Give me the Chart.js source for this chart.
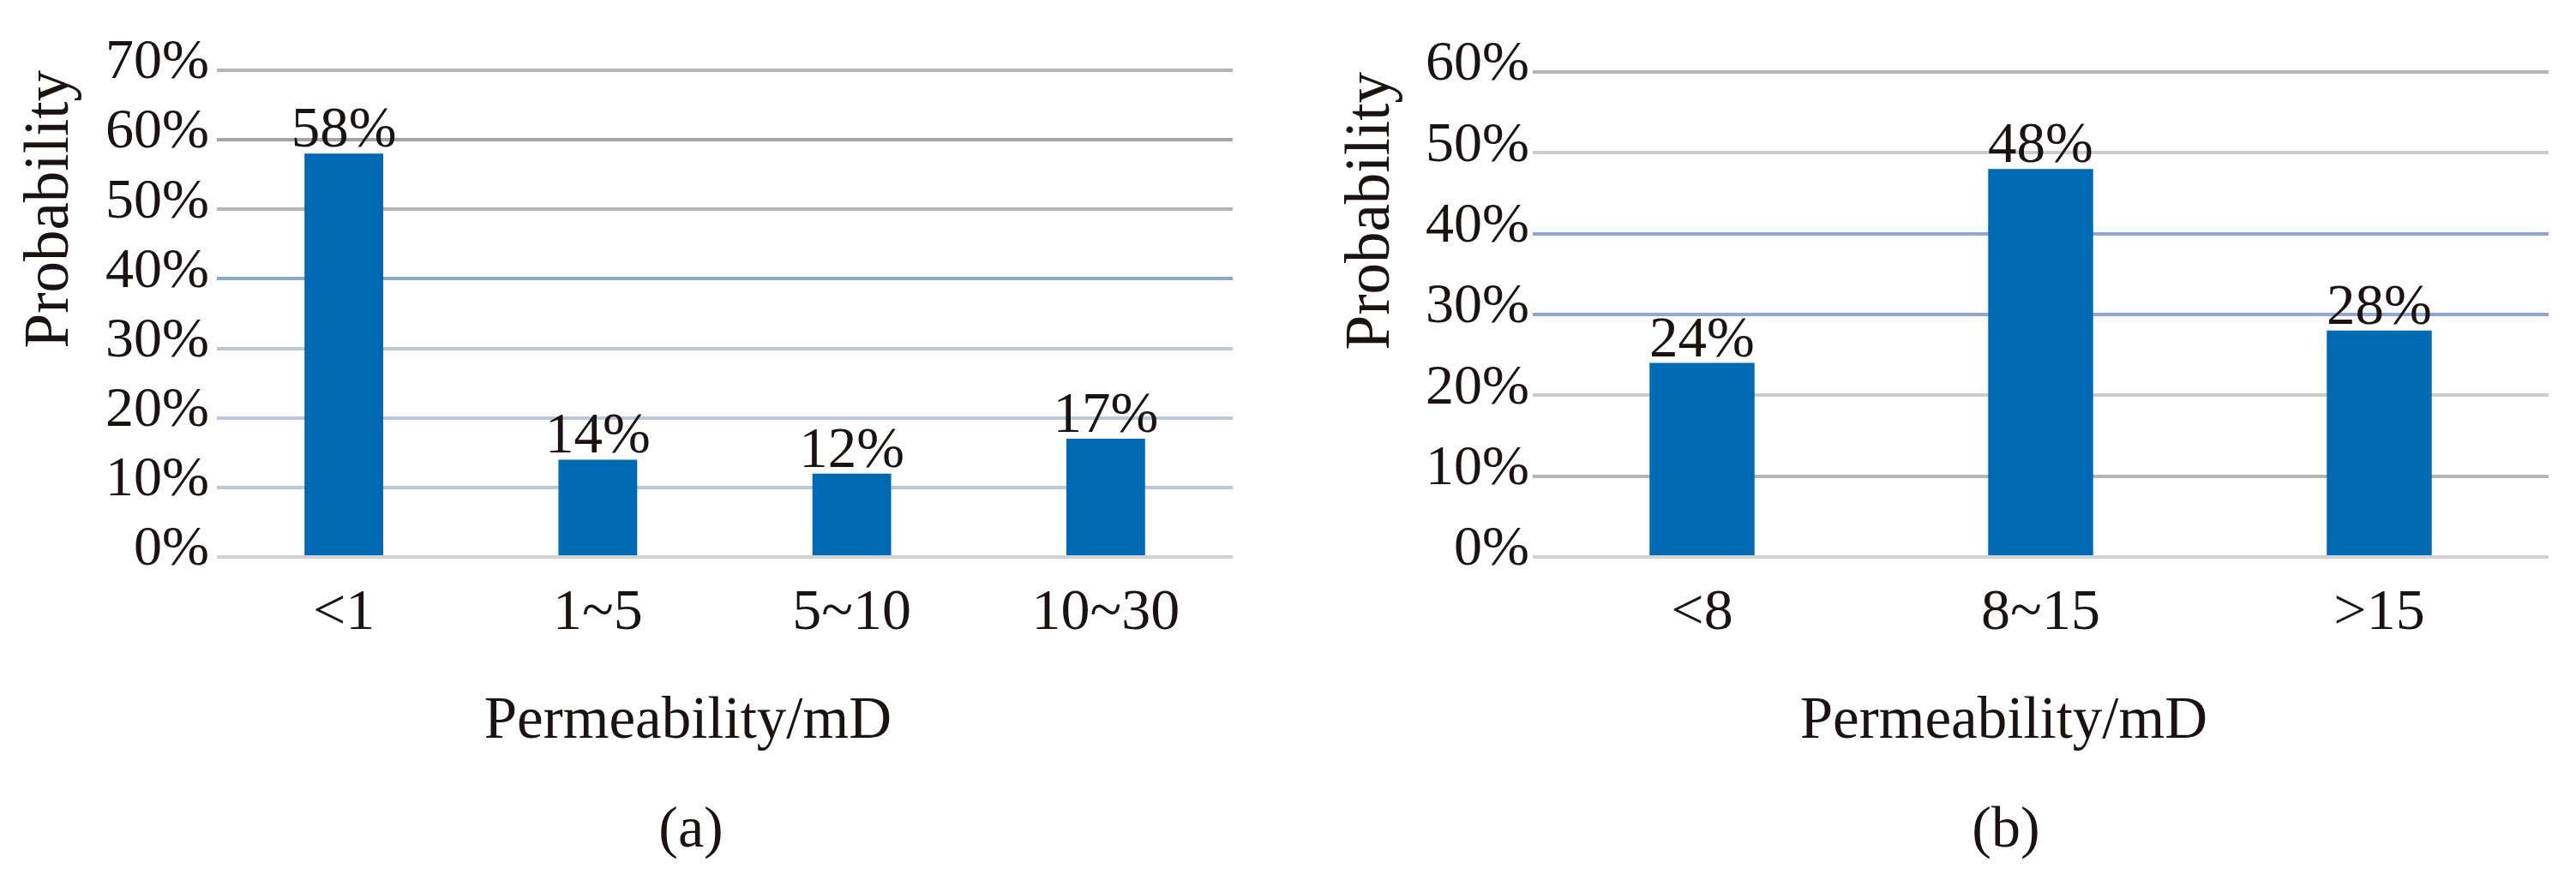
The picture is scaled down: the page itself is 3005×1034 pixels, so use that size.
<!DOCTYPE html>
<html>
<head>
<meta charset="utf-8">
<script src="https://cdn.jsdelivr.net/npm/chart.js@4.4.1/dist/chart.umd.min.js"></script>
<style>
  html, body { margin: 0; padding: 0; background: #fff; }
  #wrap { position: relative; width: 3005px; height: 1034px; }
  .box { position: absolute; top: 0; height: 1034px; }
  .cap { position: absolute; top: 931px; font-family: "Liberation Serif", "Times New Roman", serif;
         font-size: 68px; line-height: 68px; color: #1a1311; transform: translateX(-50%); }
</style>
</head>
<body>
<div id="wrap">
  <div class="box" style="left:0;width:1500px"><canvas id="graficoA"></canvas></div>
  <div class="box" style="left:1500px;width:1505px"><canvas id="graficoB"></canvas></div>
  <div class="cap" style="left:806px">(a)</div>
  <div class="cap" style="left:2340px">(b)</div>
</div>
<script>
// dati
const categorieA = ['<1', '1~5', '5~10', '10~30'];
const valoriA = [58, 14, 12, 17];
const categorieB = ['<8', '8~15', '>15'];
const valoriB = [24, 48, 28];
const tickMaxA = 70;
const tickMaxB = 60;
const titoloX = 'Permeability/mD';
const titoloY = 'Probability';

const FONT = '"Liberation Serif", "Times New Roman", serif';
const NERO = '#1a1311';
const BLU = '#0069b4';

// colori delle linee di griglia (come appaiono nella figura)
const grigliaA = {70: '#b4b4b4', 60: '#a4a4a4', 50: '#b4b4b4', 40: '#8ea6d4', 30: '#bcc7dc', 20: '#bcc7dc', 10: '#bcc7dc', 0: '#d2d2d2'};
const grigliaB = {60: '#b4b4b4', 50: '#cccccc', 40: '#8ea6d4', 30: '#8ea6d4', 20: '#cccccc', 10: '#b4b4b4', 0: '#d2d2d2'};

// etichette sopra le barre
const etichette = {
  id: 'etichette',
  afterDatasetsDraw(chart) {
    const ctx = chart.ctx;
    const meta = chart.getDatasetMeta(0);
    const dati = chart.data.datasets[0].data;
    ctx.save();
    ctx.font = '67px ' + FONT;
    ctx.fillStyle = NERO;
    ctx.textAlign = 'center';
    ctx.textBaseline = 'alphabetic';
    meta.data.forEach((bar, i) => {
      ctx.fillText(dati[i] + '%', bar.x, bar.y - 8);
    });
    ctx.restore();
  }
};

function creaGrafico(id, categorie, valori, max, griglia, opz) {
  const ctx = document.getElementById(id).getContext('2d');
  return new Chart(ctx, {
    type: 'bar',
    data: {
      labels: categorie,
      datasets: [{
        data: valori,
        backgroundColor: BLU,
        borderWidth: 0,
        barPercentage: 0.31,
        categoryPercentage: 1
      }]
    },
    options: {
      responsive: true,
      maintainAspectRatio: false,
      animation: false,
      layout: { padding: { left: 0, right: opz.destra, top: opz.alto, bottom: 0 } },
      plugins: { legend: { display: false }, tooltip: { enabled: false } },
      scales: {
        x: {
          grid: { display: false, drawTicks: false },
          border: { display: false },
          ticks: { color: NERO, font: { family: FONT, size: 68 }, padding: 25 },
          title: {
            display: true,
            text: titoloX + '\u00a0\u00a0\u00a0\u00a0\u00a0',
            color: NERO,
            font: { family: FONT, size: 69 },
            padding: { top: 0, bottom: 150 }
          },
          afterFit(scale) { scale.height = 384; }
        },
        y: {
          min: 0,
          max: max,
          grid: {
            drawTicks: false,
            lineWidth: 4,
            color: c => griglia[c.tick.value] || '#c0c0c0'
          },
          border: { display: false },
          ticks: {
            stepSize: 10,
            autoSkip: false,
            color: NERO,
            font: { family: FONT, size: 66 },
            padding: opz.padTick,
            labelOffset: -8,
            callback: v => v + '%'
          },
          title: {
            display: true,
            text: titoloY,
            align: 'end',
            color: NERO,
            font: { family: FONT, size: 73 },
            padding: { top: opz.padTitolo, bottom: 0 }
          },
          afterFit(scale) { scale.width = opz.larghezzaY; }
        }
      }
    },
    plugins: [etichette]
  });
}

function start() {
  creaGrafico('graficoA', categorieA, valoriA, tickMaxA, grigliaA,
    { destra: 62, alto: 82, larghezzaY: 253, padTick: 9, padTitolo: 16 });
  creaGrafico('graficoB', categorieB, valoriB, tickMaxB, grigliaB,
    { destra: 32, alto: 84, larghezzaY: 288, padTick: 4, padTitolo: 57 });
}

if (document.readyState === 'loading') document.addEventListener('DOMContentLoaded', start);
else start();
</script>
</body>
</html>
